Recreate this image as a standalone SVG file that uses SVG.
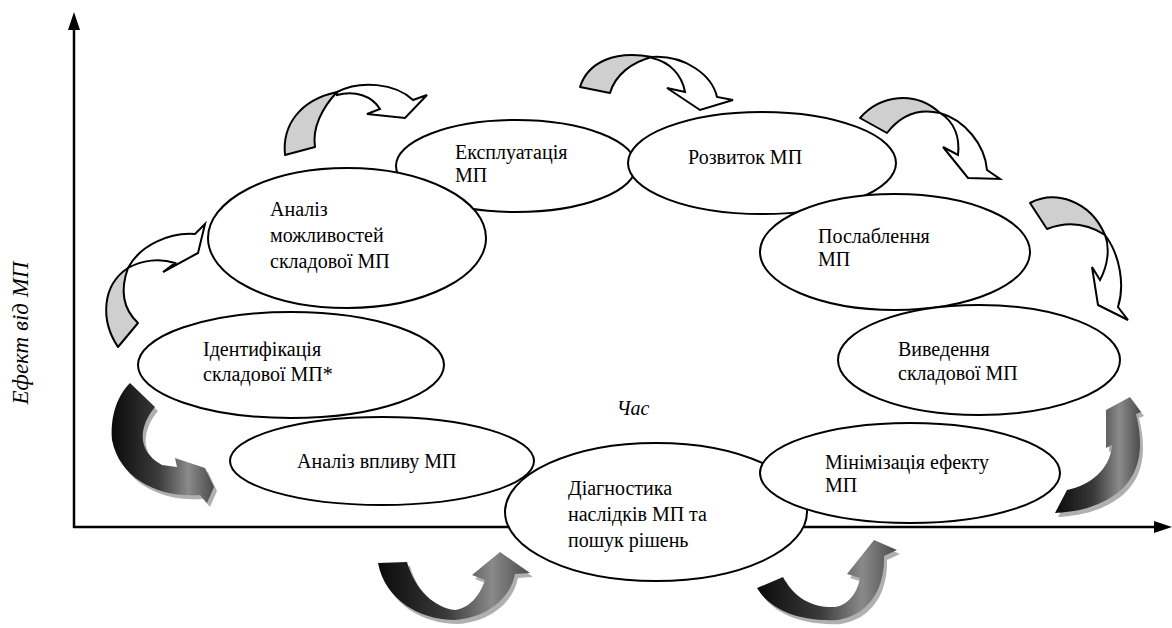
<svg xmlns="http://www.w3.org/2000/svg" width="1172" height="628" viewBox="0 0 1172 628">
<style>
.el{fill:#fff;stroke:#000;stroke-width:2}
.t{font-family:"Liberation Serif","Times New Roman",serif;font-size:20px;fill:#000}
.it{font-family:"Liberation Serif","Times New Roman",serif;font-style:italic;fill:#000}
.ax{stroke:#000;stroke-width:2.5;fill:none}
.gt{fill:#cfcfcf;stroke:#000;stroke-width:2;stroke-linejoin:round}
.wh{fill:#fff;stroke:#000;stroke-width:2;stroke-linejoin:miter}
.sh{fill:#b0b0b0}
.dk{fill:url(#dg)}
</style>
<defs>
<linearGradient id="dg" x1="0" y1="0" x2="1" y2="0">
<stop offset="0" stop-color="#0a0a0a"/>
<stop offset="0.45" stop-color="#3a3a3a"/>
<stop offset="0.75" stop-color="#8a8a8a"/>
<stop offset="1" stop-color="#4a4a4a"/>
</linearGradient>
</defs>
<g id="axes">
<line class="ax" x1="74" y1="28" x2="74" y2="528"/>
<polygon points="74,12 68,30 80,30" fill="#000"/>
<line class="ax" x1="73" y1="527" x2="1158" y2="527"/>
<polygon points="1172,527 1154,521 1154,533" fill="#000"/>
<text class="it" font-size="23" transform="translate(28,333) rotate(-90)" text-anchor="middle">Ефект від МП</text>
<text class="it" font-size="20" x="633" y="415" text-anchor="middle">Час</text>
</g>
<g id="connectors">
<g id="arrow-top-left">
<path class="gt" d="M285,155 C282,125 300,100 337,92 C322,108 312,128 315,147 Z"/>
<path class="wh" d="M337,92 C360,80 395,83 413,100 L427,95 L405,118 L367,114 L380,109 C372,96 355,90 337,95 Z"/>
</g>
<g id="arrow-top-mid">
<path class="gt" d="M580,87 C588,62 615,50 652,57 C632,62 615,75 610,93 Z"/>
<path class="wh" d="M652,57 C685,55 712,75 717,97 L733,100 L700,110 L667,88 L685,92 C682,75 670,62 652,58 Z"/>
</g>
<g id="arrow-top-right">
<path class="gt" d="M860,118 C880,95 915,90 940,113 C918,108 900,116 887,133 Z"/>
<path class="wh" d="M940,113 C965,120 985,145 987,170 L1000,179 L968,178 L943,147 L958,155 C960,138 955,122 940,113 Z"/>
</g>
<g id="arrow-right">
<path class="gt" d="M1030,203 C1055,190 1090,200 1105,235 C1085,222 1065,222 1047,229 Z"/>
<path class="wh" d="M1105,235 C1120,255 1125,285 1118,307 L1128,320 L1098,305 L1092,267 L1100,280 C1108,265 1110,248 1105,235 Z"/>
</g>
<g id="arrow-left">
<path class="gt" d="M118,347 C100,320 102,285 128,268 C120,290 122,308 138,323 Z"/>
<path class="wh" d="M128,268 C140,245 170,232 195,234 L205,224 L198,253 L163,272 L175,263 C160,258 142,260 128,268 Z"/>
</g>
<g id="arrow-dark-left">
<path class="sh" transform="translate(3,4)" d="M130,383 L155,407 C140,425 135,450 162,465 L177,467 L175,458 L205,468 L214,487 L207,503 L200,495 C160,498 120,480 112,440 C110,415 118,395 130,383 Z"/>
<path class="dk" d="M130,383 L155,407 C140,425 135,450 162,465 L177,467 L175,458 L205,468 L214,487 L207,503 L200,495 C160,498 120,480 112,440 C110,415 118,395 130,383 Z"/>
</g>
<g id="arrow-dark-right">
<path class="sh" transform="translate(3,4)" d="M1055,513 L1067,490 C1090,485 1110,470 1112,445 L1106,448 L1106,410 L1130,397 L1141,412 L1136,414 C1145,450 1140,480 1110,498 C1090,510 1070,512 1055,513 Z"/>
<path class="dk" d="M1055,513 L1067,490 C1090,485 1110,470 1112,445 L1106,448 L1106,410 L1130,397 L1141,412 L1136,414 C1145,450 1140,480 1110,498 C1090,510 1070,512 1055,513 Z"/>
</g>
<g id="arrow-dark-bottom-left">
<path class="sh" transform="translate(3,4)" d="M378,563 L407,562 C415,590 435,608 455,610 C470,608 480,595 485,580 L472,575 L500,552 L530,573 L515,574 C510,600 485,618 455,620 C420,620 385,600 378,563 Z"/>
<path class="dk" d="M378,563 L407,562 C415,590 435,608 455,610 C470,608 480,595 485,580 L472,575 L500,552 L530,573 L515,574 C510,600 485,618 455,620 C420,620 385,600 378,563 Z"/>
</g>
<g id="arrow-dark-bottom-right">
<path class="sh" transform="translate(3,4)" d="M757,588 L783,577 C795,600 815,608 835,607 C850,605 858,590 860,578 L847,574 L874,540 L897,550 L884,556 C885,590 868,615 838,620 C800,622 770,610 757,588 Z"/>
<path class="dk" d="M757,588 L783,577 C795,600 815,608 835,607 C850,605 858,590 860,578 L847,574 L874,540 L897,550 L884,556 C885,590 868,615 838,620 C800,622 770,610 757,588 Z"/>
</g>
</g>
<g id="n-exploitation">
<ellipse class="el" cx="516" cy="166" rx="120" ry="46"/>
<text class="t" x="455" y="159">Експлуатація</text>
<text class="t" x="455" y="182">МП</text>
</g>
<g id="n-development">
<ellipse class="el" cx="762" cy="163" rx="134" ry="51"/>
<text class="t" x="688" y="164">Розвиток МП</text>
</g>
<g id="n-opportunities">
<ellipse class="el" cx="347" cy="238" rx="139" ry="70"/>
<text class="t" x="270" y="216">Аналіз</text>
<text class="t" x="270" y="242">можливостей</text>
<text class="t" x="270" y="268">складової МП</text>
</g>
<g id="n-weakening">
<ellipse class="el" cx="895" cy="252" rx="135" ry="58"/>
<text class="t" x="818" y="243">Послаблення</text>
<text class="t" x="818" y="266">МП</text>
</g>
<g id="n-identification">
<ellipse class="el" cx="291" cy="365" rx="153" ry="53"/>
<text class="t" x="203" y="356">Ідентифікація</text>
<text class="t" x="203" y="381">складової МП*</text>
</g>
<g id="n-withdrawal">
<ellipse class="el" cx="979" cy="360" rx="141" ry="55"/>
<text class="t" x="898" y="356">Виведення</text>
<text class="t" x="898" y="380">складової МП</text>
</g>
<g id="n-impact">
<ellipse class="el" cx="382" cy="461" rx="152" ry="44"/>
<text class="t" x="297" y="468">Аналіз впливу МП</text>
</g>
<g id="n-diagnostics">
<ellipse class="el" cx="656" cy="512" rx="151" ry="69"/>
<text class="t" x="568" y="495">Діагностика</text>
<text class="t" x="568" y="521">наслідків МП та</text>
<text class="t" x="568" y="547">пошук рішень</text>
</g>
<g id="n-minimization">
<ellipse class="el" cx="910" cy="473" rx="150" ry="50"/>
<text class="t" x="825" y="469">Мінімізація ефекту</text>
<text class="t" x="825" y="492">МП</text>
</g>
</svg>
